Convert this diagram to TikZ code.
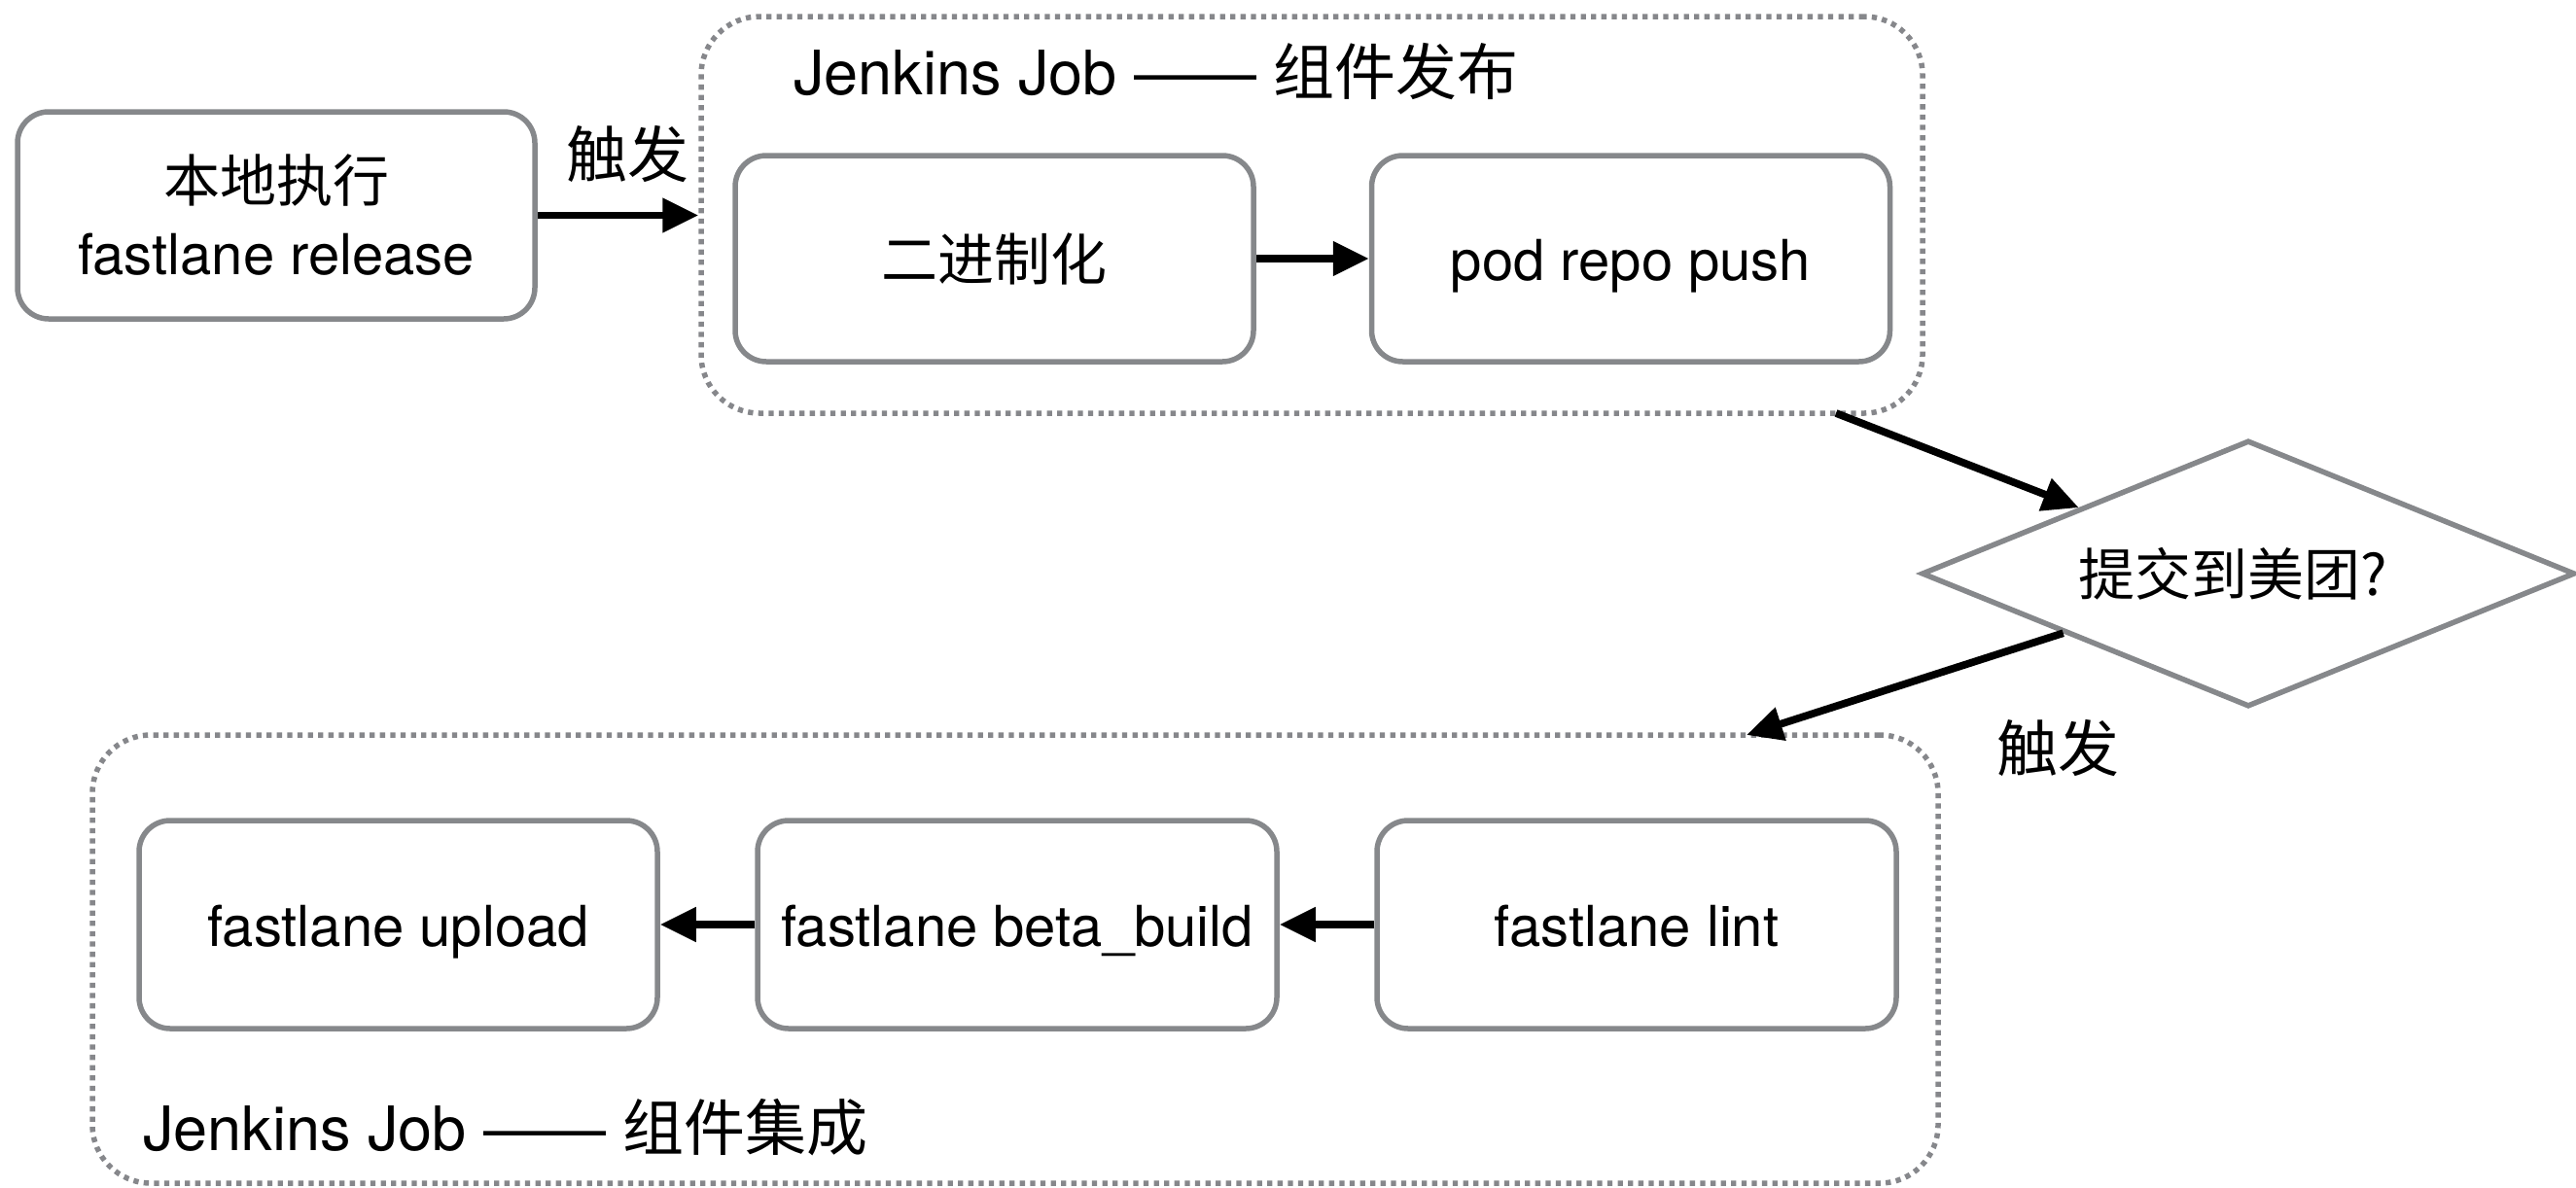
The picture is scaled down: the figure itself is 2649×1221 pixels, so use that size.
\documentclass[tikz,border=0pt]{standalone}
\usepackage{fontspec}
\setmainfont{TeX Gyre Heros}
\newfontfamily\cjk{Noto Sans CJK SC}
\usetikzlibrary{arrows.meta,shapes.geometric}
\definecolor{boxgray}{HTML}{86888B}
\definecolor{dotgray}{HTML}{86878B}
\tikzset{
  stepbox/.style={draw=boxgray, line width=5.5pt, rounded corners=32pt, fill=white,
    minimum width=533pt, minimum height=212pt, inner sep=0pt, align=center,
    font=\fontsize{58}{75}\selectfont},
  onetext/.style={text height=50pt, text depth=6pt},
  jobbox/.style={draw=dotgray, line width=5.5pt, dash pattern=on 5.3pt off 5.3pt,
    rounded corners=60pt, inner sep=0pt},
  decision/.style={draw=boxgray, line width=5.5pt, diamond, aspect=2.45, inner sep=0pt,
    minimum width=672pt, minimum height=274pt},
  conn/.style={line width=7.7pt, -{Triangle[length=37pt,width=34pt]}},
  lbl/.style={inner sep=0pt, font=\fontsize{63}{70}\selectfont},
}
\begin{document}
\begin{tikzpicture}[x=1pt, y=-1pt]
\useasboundingbox (0,0) rectangle (2649,1221);
% containers
\node[jobbox, minimum width=1256pt, minimum height=408pt] (topjob) at (1349,221) {};
\node[jobbox, minimum width=1898pt, minimum height=461pt] (botjob) at (1044,986.5) {};
% titles
\node[lbl, anchor=base west] (toptitle) at (816,97) {Jenkins Job —— {\cjk 组件发布}};
\node[lbl, anchor=base west] (bottitle) at (147,1183) {Jenkins Job —— {\cjk 组件集成}};
% boxes
\node[stepbox, minimum width=532pt, minimum height=213pt] (local) at (284,221.5) {{\cjk 本地执行}\\fastlane release};
\node[stepbox, onetext] (binary) at (1022.5,266) {\cjk 二进制化};
\node[stepbox, onetext] (push) at (1677,266) {pod repo push};
\node[stepbox, onetext, minimum height=214pt] (upload) at (409.5,951) {fastlane upload};
\node[stepbox, onetext, minimum width=534pt, minimum height=214pt] (beta) at (1046,951) {fastlane beta\_build};
\node[stepbox, onetext, minimum width=534pt, minimum height=214pt] (lint) at (1683,951) {fastlane lint};
% decision
\node[decision] (dia) at (2312,590) {};
\node[lbl, anchor=base, font=\fontsize{58}{70}\selectfont] (diatext) at (2296,612) {\cjk 提交到美团?};
% labels
\node[lbl, anchor=base] (trig1) at (645,182) {\cjk 触发};
\node[lbl, anchor=base] (trig2) at (2116,793) {\cjk 触发};
% connectors
\coordinate (a3s) at (1888,425);
\coordinate (a4e) at (1796,756);
\draw[conn] (local.east) -- (local.east -| topjob.west);
\draw[conn] (binary.east) -- (push.west);
\draw[conn] (a3s) -- (dia);
\draw[conn] (dia) -- (a4e);
\draw[conn] (lint.west) -- (beta.east);
\draw[conn] (beta.west) -- (upload.east);
\end{tikzpicture}
\end{document}
